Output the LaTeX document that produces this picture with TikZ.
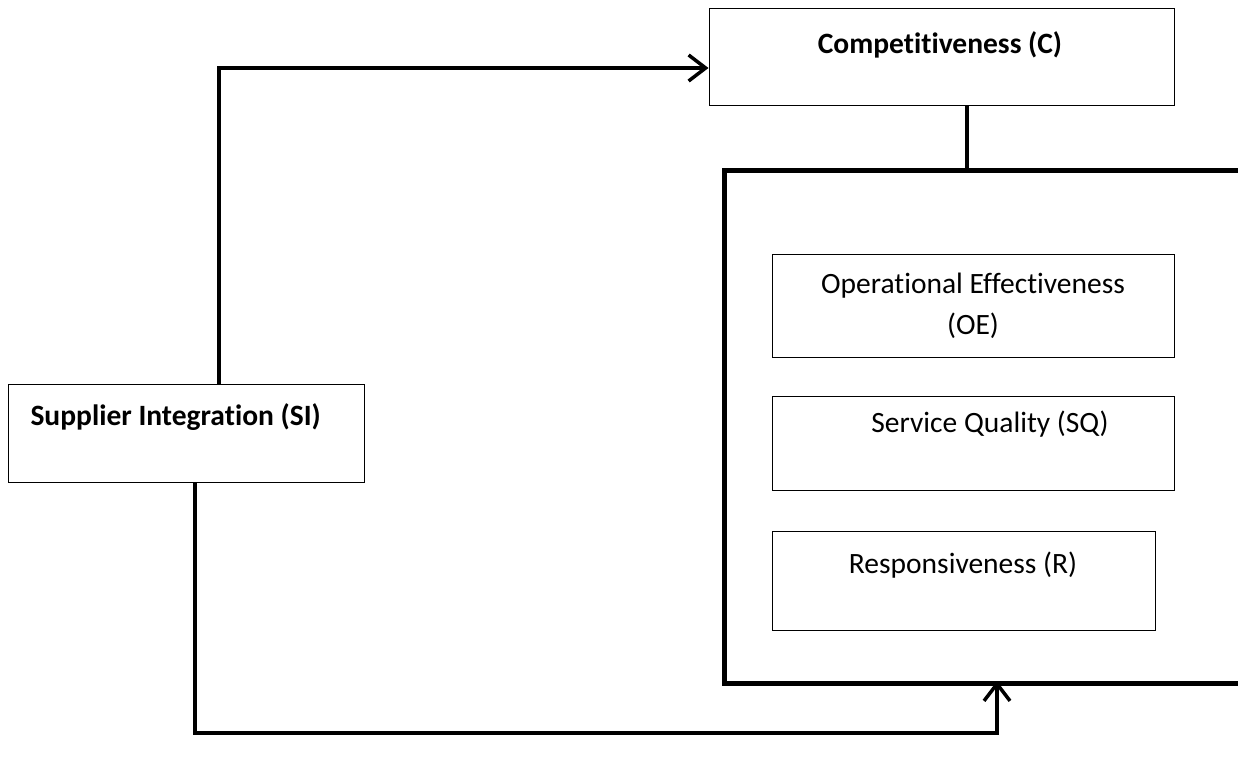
\documentclass[tikz,border=0pt]{standalone}
\usepackage{fontspec}
\setmainfont[Ligatures=CommonOff]{Carlito}
\usetikzlibrary{arrows.meta}
\begin{document}
\begin{tikzpicture}[x=1pt,y=-1pt,
  box/.style={draw,line width=1pt,inner sep=0pt},
  conn/.style={line width=3.5pt},
  arr/.style={conn,-{Straight Barb[length=17pt,width=26pt]}},
  lbl/.style={font=\fontsize{29.5}{41}\selectfont},
  blbl/.style={font=\fontsize{29.5}{41}\selectfont\bfseries}]
\useasboundingbox (0,0) rectangle (1238,763);
\clip (0,0) rectangle (1238,763);
% boxes
\node[box,minimum width=465pt,minimum height=97pt] (C) at (941.5,56.5) {};
\node[blbl] (Ct) at (940,45) {Competitiveness (C)};
\node[box,minimum width=356pt,minimum height=98pt] (SI) at (186,433) {};
\node[blbl,anchor=west] (SIt) at (27,417) {Supplier Integration (SI)};
\node[box,minimum width=402pt,minimum height=103pt] (OE) at (973,305.5) {};
\node[lbl,align=center] (OEt) at (973,306) {Operational Effectiveness\\(OE)};
\node[box,minimum width=402pt,minimum height=94pt] (SQ) at (973,443) {};
\node[lbl] (SQt) at (990,424) {Service Quality (SQ)};
\node[box,minimum width=383pt,minimum height=99pt] (R) at (963.5,580.5) {};
\node[lbl] (Rt) at (963,565) {Responsiveness (R)};
% group frame
\draw[line width=5pt] (1250,170) -- (724,170) -- (724,683) -- (1250,683);
\coordinate (gTop) at (967,170);
\coordinate (gBot) at (997,683);
\coordinate (k1) at (219,68);
\coordinate (k2) at (195,733);
\coordinate (k3) at (997,733);
% connectors
\draw[arr] (SI.north -| k1) -- (k1) -- (k1 -| C.west);
\draw[conn] (C.south -| gTop) -- (gTop);
\draw[arr] (SI.south -| k2) -- (k2) -- (k3) -- ([yshift=2pt]gBot);
\end{tikzpicture}
\end{document}
